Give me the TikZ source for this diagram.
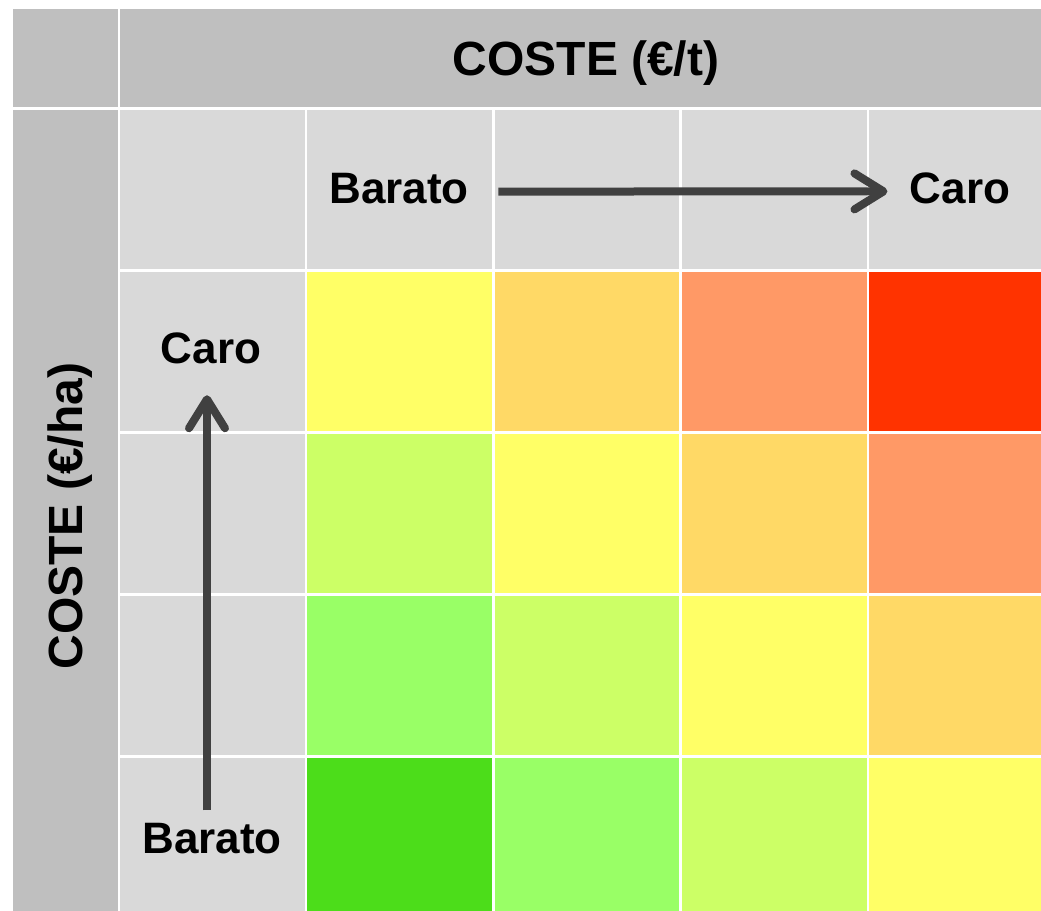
\documentclass[tikz,border=0pt]{standalone}
\usepackage{fontspec}
\setmainfont{Liberation Sans}
\usetikzlibrary{arrows.meta,positioning}

\definecolor{hdrgray}{HTML}{BFBFBF}
\definecolor{lblgray}{HTML}{D9D9D9}
\definecolor{arrgray}{HTML}{404040}
\definecolor{cRed}{HTML}{FF3300}
\definecolor{cSal}{HTML}{FF9966}
\definecolor{cAmb}{HTML}{FFD966}
\definecolor{cYel}{HTML}{FFFF66}
\definecolor{cLim}{HTML}{CCFF66}
\definecolor{cGrn}{HTML}{99FF66}
\definecolor{cDrk}{HTML}{4CDD1A}

\begin{document}
\begin{tikzpicture}[x=0.5pt,y=-0.5pt]
  \tikzset{cell/.style = {rectangle, draw=white, line width=1.25pt, anchor=north west,
                          inner sep=0pt, minimum width=93.625pt, minimum height=81pt}, }
  \tikzset{hdr/.style = {rectangle, draw=white, line width=1.25pt, anchor=north west,
                         inner sep=0pt, fill=hdrgray}, }
  \tikzset{hdrtext/.style = {inner sep=0pt, anchor=base, font=\fontsize{24}{28}\bfseries}, }
  \tikzset{lbl/.style = {inner sep=0pt, anchor=base, font=\fontsize{22}{26}\bfseries}, }
  \tikzset{arrow/.style = {draw=arrgray, line width=4pt,
                           -{Straight Barb[length=14.5pt,width=18pt,round]}}, }

  \useasboundingbox (0,0) rectangle (1041,911);
  \clip (0,0) rectangle (1041,911);

  % header cells
  \node[hdr, minimum width=53.75pt, minimum height=50.25pt] (corner) at (10,6.5) {};
  \node[hdr, minimum width=468.25pt, minimum height=50.25pt] (tophdr) at (117.5,6.5) {};
  \node[hdr, minimum width=53.75pt, minimum height=405pt] (lefthdr) at (10,107) {};

  % label row and column
  \foreach \j in {0,...,4}
    \node[cell, fill=lblgray] (c-0-\j) at (117.5+187.25*\j,107) {};
  \foreach \i in {1,...,4}
    \node[cell, fill=lblgray] (c-\i-0) at (117.5,107+162*\i) {};

  % coloured matrix
  \foreach \i/\cols in {1/{cYel,cAmb,cSal,cRed}, 2/{cLim,cYel,cAmb,cSal},
                        3/{cGrn,cLim,cYel,cAmb}, 4/{cDrk,cGrn,cLim,cYel}}
    \foreach \c [count=\j] in \cols
      \node[cell, fill=\c] (c-\i-\j) at (117.5+187.25*\j,107+162*\i) {};

  % texts
  \node[hdrtext] (ttop) at (586,75) {COSTE (€/t)};
  \node[hdrtext, rotate=90] (tleft) at (83,516) {COSTE (€/ha)};
  \node[lbl] (xlow) at (399,203) {Barato};
  \node[lbl] (xhigh) at (960,203) {Caro};
  \node[lbl] (yhigh) at (211,363) {Caro};
  \node[lbl] (ylow) at (212,853) {Barato};

  \draw[arrow, shorten <=14.6pt, shorten >=11pt]
    ([yshift=-1.75pt]xlow.east) -- ([yshift=-1.75pt]xhigh.west);
  \draw[arrow, shorten <=6pt, shorten >=15.7pt]
    ([xshift=-2.5pt]ylow.north) -- ([xshift=-2pt]yhigh.south);

\end{tikzpicture}
\end{document}
